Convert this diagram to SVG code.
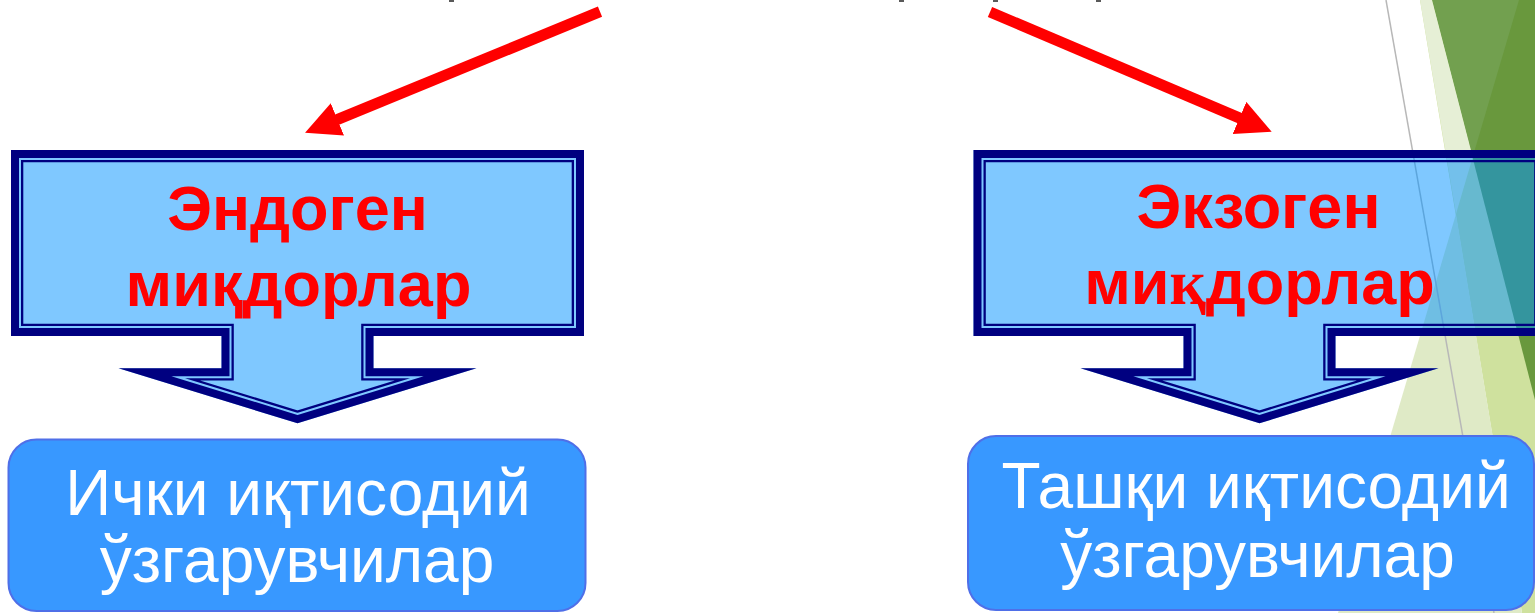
<svg xmlns="http://www.w3.org/2000/svg" xmlns:xlink="http://www.w3.org/1999/xlink" width="1535" height="613" viewBox="0 0 1535 613">
<style>
.cfill{fill:rgba(0,145,255,0.5);stroke:none}
.navy{fill:#000080}
.ctext{font-family:"Liberation Sans",Arial,sans-serif;font-weight:bold;font-size:63px;fill:#ff0000;text-anchor:middle}
.btext{font-family:"Liberation Sans",Arial,sans-serif;font-size:64px;fill:#ffffff;text-anchor:middle}
.bbox{fill:#3898ff;stroke:#4f6fe8;stroke-width:2}
.arrow{stroke:#ff0000;stroke-width:11;fill:none}
.mw{fill:none;stroke:#fff;stroke-linejoin:miter;stroke-miterlimit:30}
.mb{fill:none;stroke:#000;stroke-linejoin:miter;stroke-miterlimit:30}
</style>
<defs>
<path id="calloutL" d="M11,150 H584 V336 H373.5 V368.3 H476.5 L297.5,423.3 L118.5,368.3 H221.5 V336 H11 Z"/>
<path id="calloutR" d="M973.5,150 H1546.5 V336 H1335.5 V368.3 H1438.5 L1259.5,423.3 L1080.5,368.3 H1183.5 V336 H973.5 Z"/>
<mask id="mL" maskUnits="userSpaceOnUse" x="0" y="0" width="1600" height="613">
<use xlink:href="#calloutL" class="mw" stroke-width="24.6"/>
<use xlink:href="#calloutL" class="mb" stroke-width="20"/>
<use xlink:href="#calloutL" class="mw" stroke-width="16"/>
</mask>
<mask id="mR" maskUnits="userSpaceOnUse" x="0" y="0" width="1600" height="613">
<use xlink:href="#calloutR" class="mw" stroke-width="24.6"/>
<use xlink:href="#calloutR" class="mb" stroke-width="20"/>
<use xlink:href="#calloutR" class="mw" stroke-width="16"/>
</mask>
<marker id="head" markerUnits="userSpaceOnUse" markerWidth="36" markerHeight="36" viewBox="0 0 36 36" refX="1" refY="17.5" orient="auto">
<path d="M0,0 L35,17.5 L0,35 Z" fill="#ff0000"/>
</marker>
</defs>
<rect width="1535" height="613" fill="#ffffff"/>
<g id="decoration">
<polygon points="1420,0 1535,0 1535,613 1522,613" fill="#cfe19e"/>
<polygon points="1432,0 1535,0 1535,400" fill="#69983d"/>
<polygon points="1432,0 1519,0 1472.7,157" fill="#72a04f"/>
<polygon points="1420,0 1432,0 1472.7,157 1456,214" fill="#e6efd6"/>
<polygon points="1456,214 1338,613 1522,613" fill="#dfeac6"/>
<line x1="1386" y1="0" x2="1494" y2="613" stroke="#b8b8b8" stroke-width="1.5"/>
</g>
<g id="top-fragments" fill="#595959">
<rect x="449" y="0" width="5" height="2"/>
<rect x="899" y="0" width="5" height="2"/>
<rect x="993" y="0" width="5" height="2"/>
<rect x="1096" y="0" width="5" height="2"/>
</g>
<g id="endogen">
<use xlink:href="#calloutL" class="cfill"/>
<use xlink:href="#calloutL" class="navy" mask="url(#mL)"/>
<text class="ctext" x="297.5" y="230">Эндоген</text>
<text class="ctext" x="298.5" y="305.7">миқдорлар</text>
</g>
<g id="exogen">
<use xlink:href="#calloutR" class="cfill"/>
<use xlink:href="#calloutR" class="navy" mask="url(#mR)"/>
<text class="ctext" x="1258.5" y="227.5">Экзоген</text>
<text class="ctext" x="1259.5" y="304">ми<tspan font-family="'Liberation Serif',serif">қ</tspan>дорлар</text>
</g>
<g id="internal">
<rect class="bbox" x="8.5" y="439.5" width="577" height="171.5" rx="28"/>
<text class="btext" x="298" y="515">Ички иқтисодий</text>
<text class="btext" x="297" y="581.7">ўзгарувчилар</text>
</g>
<g id="external">
<rect class="bbox" x="968" y="436" width="566" height="174" rx="28"/>
<text class="btext" x="1256" y="508.3">Ташқи иқтисодий</text>
<text class="btext" x="1257.5" y="576.7">ўзгарувчилар</text>
</g>
<g id="connectors">
<line class="arrow" x1="600" y1="11.7" x2="336.5" y2="119.8" marker-end="url(#head)"/>
<line class="arrow" x1="990" y1="12" x2="1240.4" y2="118.4" marker-end="url(#head)"/>
</g>
</svg>
